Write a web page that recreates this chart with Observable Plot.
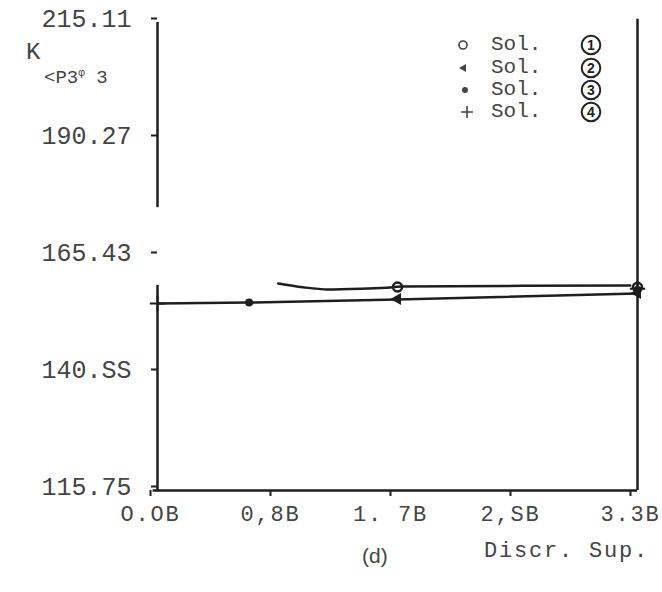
<!DOCTYPE html>
<html><head><meta charset="utf-8">
<script src="https://cdn.jsdelivr.net/npm/d3@7"></script>
<script src="https://cdn.jsdelivr.net/npm/@observablehq/plot@0.6"></script>
<style>
body{margin:0;background:#fff;}
#wrap{position:relative;width:662px;height:592px;overflow:hidden;font-family:"Liberation Mono",monospace;color:#444;}
.ov{position:absolute;white-space:pre;line-height:1;}
#wrap svg{position:absolute;left:0;top:0;}
#wrap .ov svg{position:static;display:block;}
svg [aria-label="x-axis tick label"] text{letter-spacing:1.8px}
</style></head><body><div id="wrap"></div>
<script>
// ---- data ----
const xTicks = [0, 0.825, 1.65, 2.475, 3.3];
const xTickLabels = ["O.OB", "0,8B", "1. 7B", "2,SB", "3.3B"];
const yTicks = [115.75, 140.59, 165.43, 190.27, 215.11];
const yTickLabels = ["115.75", "140.SS", "165.43", "190.27", "215.11"];

const lowerX = [0, 0.63, 1.65, 3.3];
const lowerY = [155.45, 155.66, 156.3, 157.6];
const upperX = [0.83, 1.0, 1.17, 1.4, 1.6, 1.67, 2.5, 3.25];
const upperY = [159.7, 158.9, 158.45, 158.6, 158.85, 159.06, 159.2, 159.27];

const sol1X = [1.65, 3.3], sol1Y = [158.95, 158.9];
const sol2X = [1.65, 3.3], sol2Y = [156.4, 157.7];
const sol3X = [0.63, 3.3], sol3Y = [155.66, 158.3];
const sol4X = [0, 3.3],    sol4Y = [155.45, 158.6];

const legendLabels = ["Sol.", "Sol.", "Sol.", "Sol."];
const legendNums = ["1", "2", "3", "4"];

// frame segments (data units)
const leftAxisSegs = [[175.8, 215.11], [115.75, 159.3]];
const rightAxisTop = 215.8;

const pts = (xs, ys) => xs.map((x, i) => ({x, y: ys[i]}));
const INK = "#1e1e1e";

const chart = Plot.plot({
  width: 662, height: 592,
  marginLeft: 157, marginRight: 25, marginTop: 22, marginBottom: 102,
  x: {domain: [0, 3.3]},
  y: {domain: [115.75, 215.11]},
  style: {fontFamily: "Liberation Mono, monospace", color: "#444", background: "transparent", overflow: "visible"},
  marks: [
    Plot.axisY({ticks: yTicks, tickFormat: d => yTickLabels[yTicks.indexOf(d)], tickSize: 6, tickPadding: 20, fontSize: 25, dy: -4, label: null, stroke: INK, strokeWidth: 2}),
    Plot.axisX({ticks: xTicks, tickFormat: d => xTickLabels[xTicks.indexOf(d)], tickSize: 6, tickPadding: 9, fontSize: 22, dx: -7, label: null, stroke: INK, strokeWidth: 2}),
    Plot.ruleX(leftAxisSegs, {x: () => 0, y1: d => d[0], y2: d => d[1], stroke: INK, strokeWidth: 2.5}),
    Plot.ruleX([3.3], {y1: 115.75, y2: rightAxisTop, stroke: INK, strokeWidth: 2.5}),
    Plot.ruleY([115.75], {x1: -0.03, x2: 3.3, stroke: INK, strokeWidth: 2.5}),
    Plot.line(pts(lowerX, lowerY), {x: "x", y: "y", stroke: INK, strokeWidth: 2.5}),
    Plot.line(pts(upperX, upperY), {x: "x", y: "y", stroke: INK, strokeWidth: 2.5, curve: "monotone-x"}),
    Plot.dot(pts(sol1X, sol1Y), {x: "x", y: "y", r: 4.5, stroke: INK, strokeWidth: 2.5, fill: "none"}),
    Plot.dot(pts(sol2X, sol2Y), {x: "x", y: "y", r: 4.5, symbol: "triangle", rotate: -90, fill: INK}),
    Plot.dot(pts(sol3X, sol3Y), {x: "x", y: "y", r: 4, fill: INK}),
    Plot.dot(pts(sol4X, sol4Y), {x: "x", y: "y", r: 5, symbol: "plus", stroke: INK, strokeWidth: 2})
  ]
});

const wrap = document.getElementById("wrap");
wrap.appendChild(chart);

function ov(text, left, top, css) {
  const d = document.createElement("div");
  d.className = "ov";
  d.textContent = text;
  d.style.left = left + "px";
  d.style.top = top + "px";
  Object.assign(d.style, css || {});
  wrap.appendChild(d);
  return d;
}

// garbled axis-title text of the scan
ov("K", 26, 41, {fontSize: "24px"});
const p = ov("", 44, 68, {fontSize: "19px"});
p.innerHTML = "&lt;P3<span style='font-size:11px;vertical-align:7px'>&#966;</span> 3";

// legend
const symSvg = [
  "<svg width='14' height='14'><circle cx='7' cy='7' r='4' fill='none' stroke='#444' stroke-width='1.6'/></svg>",
  "<svg width='14' height='14'><path d='M3 7 L10 3 L10 11 Z' fill='#444'/></svg>",
  "<svg width='14' height='14'><circle cx='7' cy='7' r='3' fill='#444'/></svg>",
  "<svg width='14' height='14'><path d='M7 1 V13 M1 7 H13' stroke='#444' stroke-width='1.6'/></svg>"
];
const rowY = [45, 68, 90, 112];
const symX = [456, 456, 458, 460];
legendLabels.forEach((t, i) => {
  const s = ov("", symX[i], rowY[i] - 7);
  s.innerHTML = symSvg[i];
  ov(t, 491, rowY[i] - 11, {fontSize: "21px"});
  const c = ov("", 580, rowY[i] - 11);
  c.innerHTML = "<svg width='22' height='22'><circle cx='11' cy='11' r='9.3' fill='none' stroke='#222' stroke-width='2'/>" +
    "<text x='11' y='11' dy='0.36em' text-anchor='middle' font-family='Liberation Sans, sans-serif' font-size='14' font-weight='bold' fill='#222'>" + legendNums[i] + "</text></svg>";
});

// x-axis title and panel caption
ov("Discr. Sup.", 484, 541, {fontSize: "22px", letterSpacing: "1.8px"});
ov("(d)", 362, 545, {fontSize: "21px", fontFamily: "'Liberation Sans', sans-serif"});
</script>
</body></html>
